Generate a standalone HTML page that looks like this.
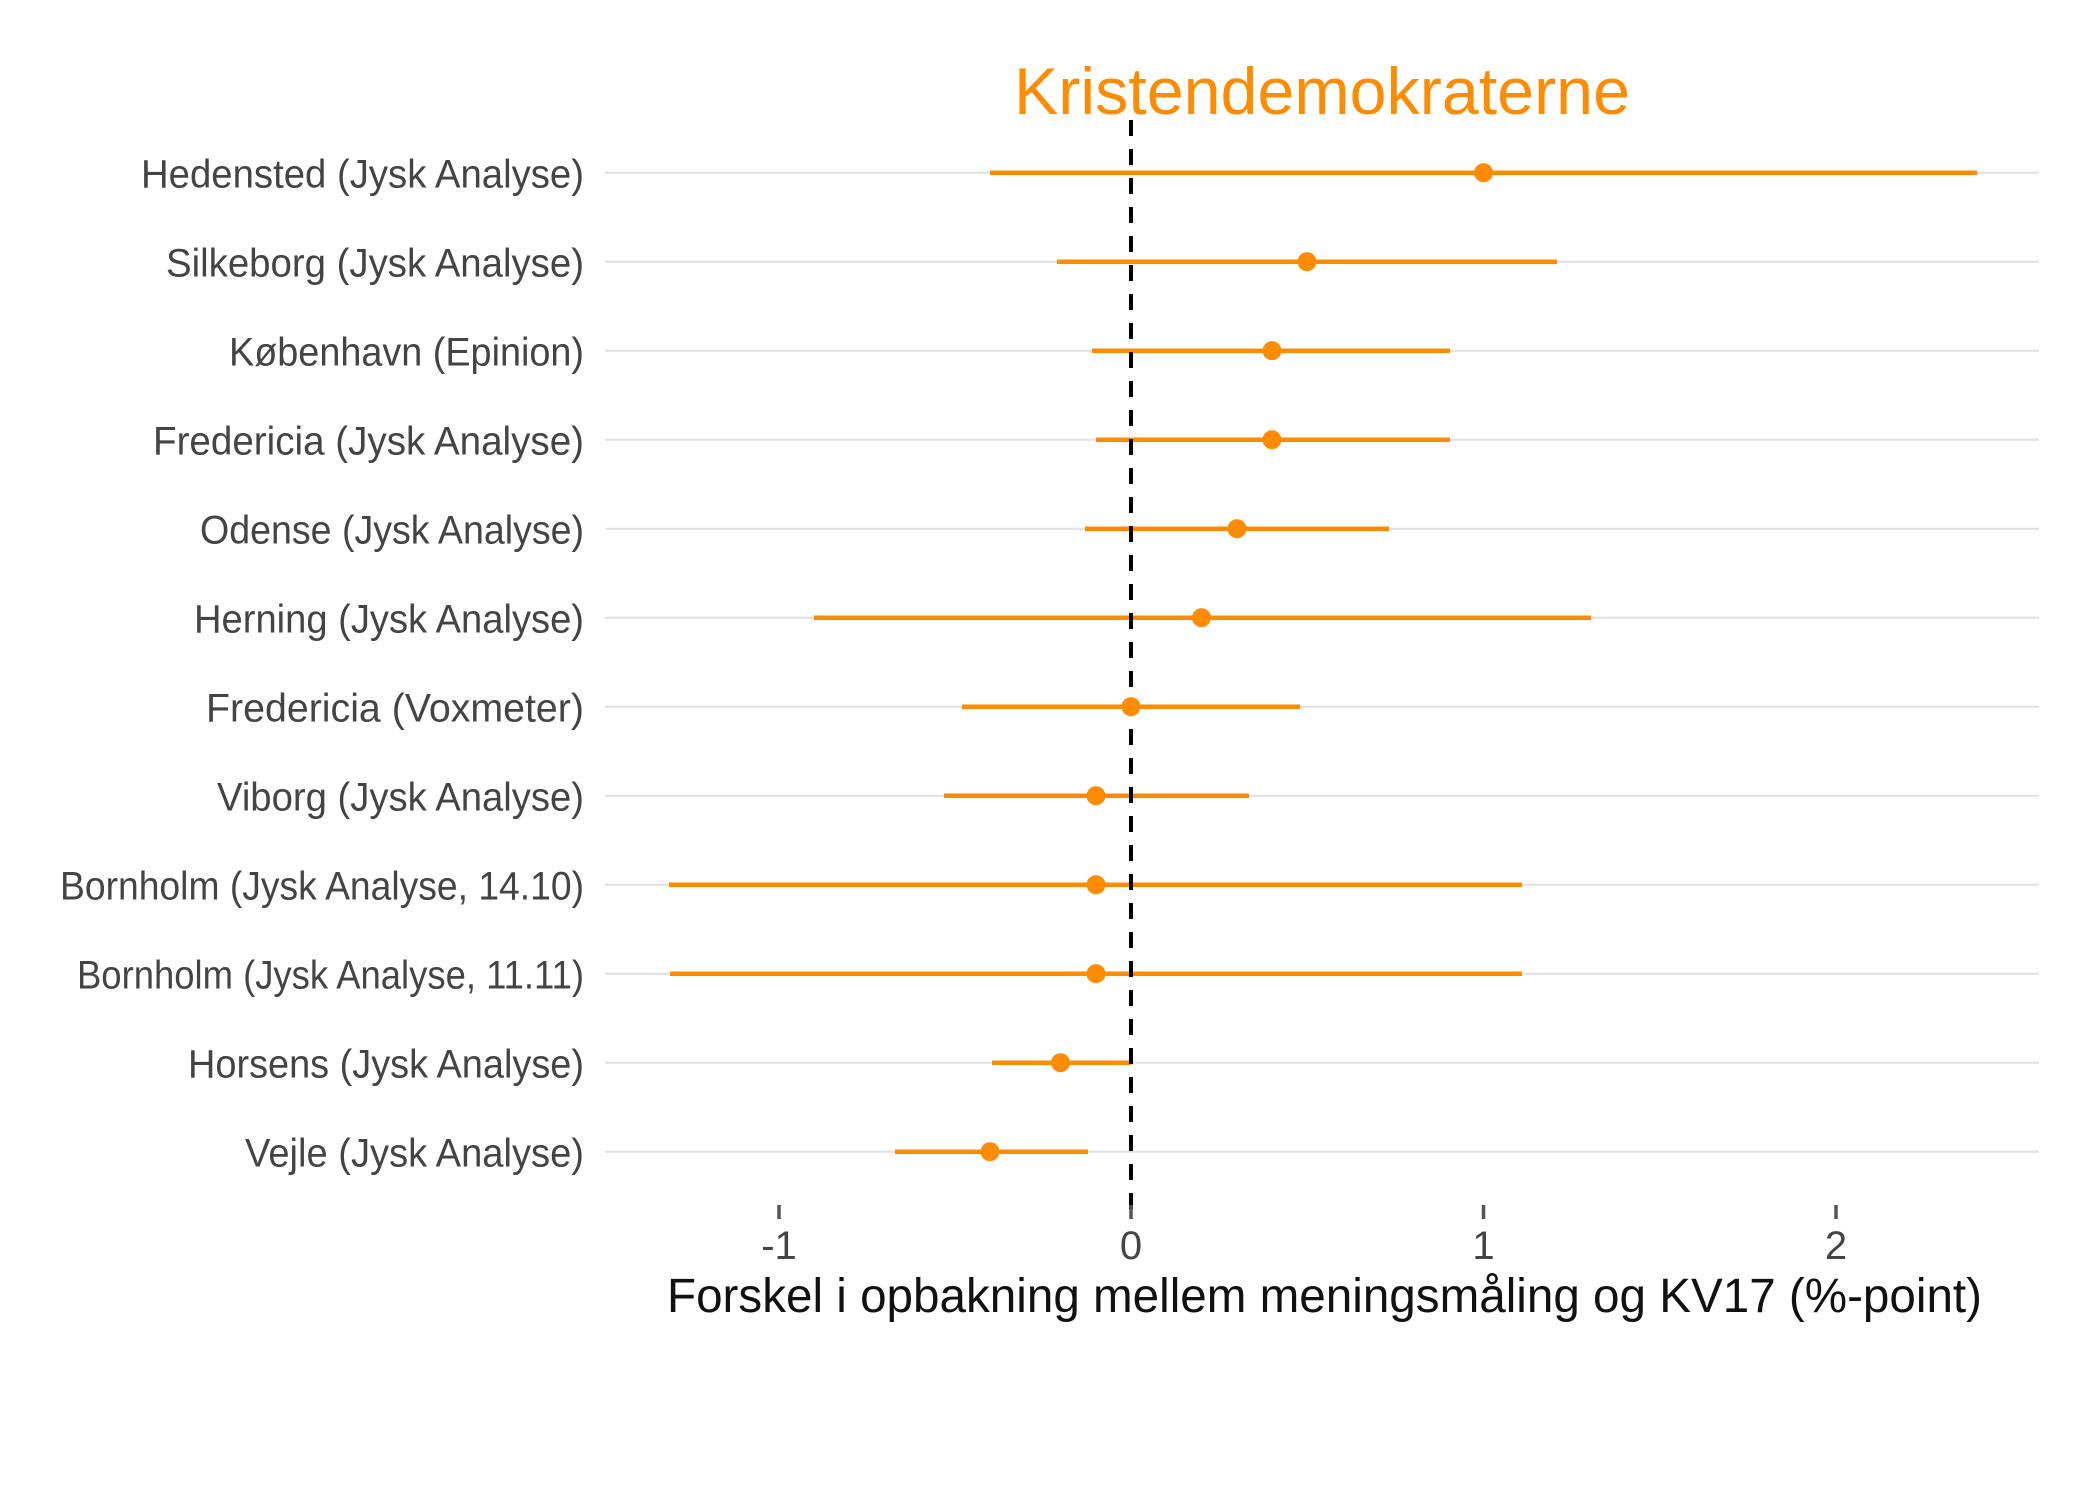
<!DOCTYPE html>
<html><head><meta charset="utf-8"><style>html,body{margin:0;padding:0;background:#fff}svg{display:block}</style></head>
<body>
<svg width="2100" height="1500" viewBox="0 0 2100 1500" xmlns="http://www.w3.org/2000/svg" font-family="'Liberation Sans', sans-serif">
<rect width="2100" height="1500" fill="#fff"/>
<g stroke="#e0e0e0" stroke-width="2">
<line x1="605" x2="2039" y1="172.7" y2="172.7"/>
<line x1="605" x2="2039" y1="261.7" y2="261.7"/>
<line x1="605" x2="2039" y1="350.7" y2="350.7"/>
<line x1="605" x2="2039" y1="439.7" y2="439.7"/>
<line x1="605" x2="2039" y1="528.7" y2="528.7"/>
<line x1="605" x2="2039" y1="617.7" y2="617.7"/>
<line x1="605" x2="2039" y1="706.7" y2="706.7"/>
<line x1="605" x2="2039" y1="795.7" y2="795.7"/>
<line x1="605" x2="2039" y1="884.7" y2="884.7"/>
<line x1="605" x2="2039" y1="973.7" y2="973.7"/>
<line x1="605" x2="2039" y1="1062.7" y2="1062.7"/>
<line x1="605" x2="2039" y1="1151.7" y2="1151.7"/>
</g>
<g stroke="#FF8C00" stroke-width="4.5">
<line x1="990" x2="1977" y1="172.7" y2="172.7"/>
<line x1="1057" x2="1557" y1="261.7" y2="261.7"/>
<line x1="1092" x2="1450" y1="350.7" y2="350.7"/>
<line x1="1096" x2="1450" y1="439.7" y2="439.7"/>
<line x1="1085" x2="1389" y1="528.7" y2="528.7"/>
<line x1="814" x2="1591" y1="617.7" y2="617.7"/>
<line x1="962" x2="1300" y1="706.7" y2="706.7"/>
<line x1="944" x2="1249" y1="795.7" y2="795.7"/>
<line x1="669" x2="1522" y1="884.7" y2="884.7"/>
<line x1="670" x2="1522" y1="973.7" y2="973.7"/>
<line x1="992" x2="1131" y1="1062.7" y2="1062.7"/>
<line x1="895" x2="1088" y1="1151.7" y2="1151.7"/>
</g>
<line x1="1131" x2="1131" y1="120" y2="1212" stroke="#000" stroke-width="4" stroke-dasharray="16,13"/>
<g fill="#FF8C00">
<circle cx="1483.5" cy="172.7" r="9.5"/>
<circle cx="1307" cy="261.7" r="9.5"/>
<circle cx="1272" cy="350.7" r="9.5"/>
<circle cx="1272" cy="439.7" r="9.5"/>
<circle cx="1237" cy="528.7" r="9.5"/>
<circle cx="1201.5" cy="617.7" r="9.5"/>
<circle cx="1131" cy="706.7" r="9.5"/>
<circle cx="1096" cy="795.7" r="9.5"/>
<circle cx="1096" cy="884.7" r="9.5"/>
<circle cx="1096" cy="973.7" r="9.5"/>
<circle cx="1060.5" cy="1062.7" r="9.5"/>
<circle cx="990" cy="1151.7" r="9.5"/>
</g>
<g fill="#444" font-size="40" text-anchor="end">
<text x="584" y="187.7" textLength="443" lengthAdjust="spacingAndGlyphs">Hedensted (Jysk Analyse)</text>
<text x="584" y="276.7" textLength="418" lengthAdjust="spacingAndGlyphs">Silkeborg (Jysk Analyse)</text>
<text x="584" y="365.7" textLength="355" lengthAdjust="spacingAndGlyphs">København (Epinion)</text>
<text x="584" y="454.7" textLength="431" lengthAdjust="spacingAndGlyphs">Fredericia (Jysk Analyse)</text>
<text x="584" y="543.7" textLength="384" lengthAdjust="spacingAndGlyphs">Odense (Jysk Analyse)</text>
<text x="584" y="632.7" textLength="390" lengthAdjust="spacingAndGlyphs">Herning (Jysk Analyse)</text>
<text x="584" y="721.7" textLength="378" lengthAdjust="spacingAndGlyphs">Fredericia (Voxmeter)</text>
<text x="584" y="810.7" textLength="367" lengthAdjust="spacingAndGlyphs">Viborg (Jysk Analyse)</text>
<text x="584" y="899.7" textLength="524" lengthAdjust="spacingAndGlyphs">Bornholm (Jysk Analyse, 14.10)</text>
<text x="584" y="988.7" textLength="507" lengthAdjust="spacingAndGlyphs">Bornholm (Jysk Analyse, 11.11)</text>
<text x="584" y="1077.7" textLength="396" lengthAdjust="spacingAndGlyphs">Horsens (Jysk Analyse)</text>
<text x="584" y="1166.7" textLength="339" lengthAdjust="spacingAndGlyphs">Vejle (Jysk Analyse)</text>
</g>
<g stroke="#555" stroke-width="3.5">
<line x1="779" x2="779" y1="1205" y2="1219"/>
<line x1="1131" x2="1131" y1="1205" y2="1219"/>
<line x1="1483.5" x2="1483.5" y1="1205" y2="1219"/>
<line x1="1836" x2="1836" y1="1205" y2="1219"/>
</g>
<g fill="#444" font-size="40" text-anchor="middle">
<text x="779" y="1259">-1</text>
<text x="1131" y="1259">0</text>
<text x="1483.5" y="1259">1</text>
<text x="1836" y="1259">2</text>
</g>
<text x="667" y="1312" font-size="48" fill="#111" textLength="1315" lengthAdjust="spacingAndGlyphs">Forskel i opbakning mellem meningsmåling og KV17 (%-point)</text>
<text x="1014" y="114" font-size="66" fill="#FF8C00" textLength="616" lengthAdjust="spacingAndGlyphs">Kristendemokraterne</text>
</svg>
</body></html>
